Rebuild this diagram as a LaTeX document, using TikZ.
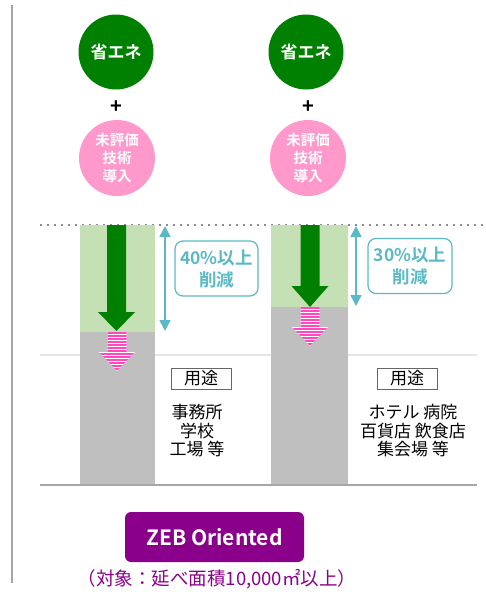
\documentclass[tikz,border=0pt]{standalone}
\usepackage{fontspec}
\setmainfont{Noto Sans CJK JP}[BoldFont={Noto Sans CJK JP Bold}]
\usetikzlibrary{arrows.meta}

\definecolor{eco}{HTML}{008000}
\definecolor{ecolight}{HTML}{C5E0B4}
\definecolor{newtech}{HTML}{FF99CC}
\definecolor{stripe}{HTML}{FF48C2}
\definecolor{cut}{HTML}{5BB9C5}
\definecolor{zeb}{HTML}{8B008B}
\definecolor{bldg}{HTML}{BFBFBF}

% green arrow: centre x, top, head start, tip
\newcommand{\ecoarrow}[4]{
  \fill[eco] (#1-9.5,#2) -- (#1+9.5,#2) -- (#1+9.5,#3) -- (#1+18.5,#3)
    -- (#1,#4) -- (#1-18.5,#3) -- (#1-9.5,#3) -- cycle;
}
% striped pink arrow: centre x, top, head start, tip
\newcommand{\techarrow}[4]{
  \begin{scope}
    \clip (#1-9.5,#2) -- (#1+9.5,#2) -- (#1+9.5,#3) -- (#1+18,#3)
      -- (#1,#4) -- (#1-18,#3) -- (#1-9.5,#3) -- cycle;
    \fill[white] (#1-20,#2) rectangle (#1+20,#4);
    \foreach \s in {0,3,...,42}
      \fill[stripe] (#1-20,#2+\s) rectangle (#1+20,#2+\s+1.6);
  \end{scope}
}

\begin{document}
\begin{tikzpicture}[x=1pt,y=-1pt,
    ecocircle/.style={circle,fill=eco,minimum size=75pt,inner sep=0pt,
      text=white,font=\fontsize{17}{18}\selectfont\bfseries},
    techcircle/.style={circle,fill=newtech,minimum size=76pt,inner sep=0pt,
      text=white,align=center,font=\fontsize{14.5}{18}\selectfont\bfseries},
    cutbox/.style={draw=cut,line width=1.2pt,rounded corners=8pt,fill=white,
      text=cut,align=center,minimum height=55pt,inner sep=0pt,
      font=\fontsize{17.5}{22}\selectfont\bfseries},
    cutarrow/.style={cut,line width=1.5pt,{Triangle[length=11pt,width=11pt]}-{Triangle[length=11pt,width=11pt]}},
    usebox/.style={draw=black!60,line width=0.8pt,minimum width=60pt,minimum height=21pt,
      inner sep=0pt,font=\fontsize{17}{18}\selectfont},
    uselist/.style={align=center,font=\fontsize{17}{18.5}\selectfont},
    plus/.style={font=\fontsize{20}{20}\selectfont\bfseries},
  ]
  \useasboundingbox (0,0) rectangle (486,592);

  % frame lines
  \draw[black!35,line width=1.5pt] (12,5) -- (12,583);
  \draw[black!45,dotted,line width=1.5pt,dash pattern=on 1.5pt off 5.5pt] (40,225) -- (486,225);
  \draw[black!10,line width=2pt] (40,355) -- (477,355);

  % buildings
  \fill[ecolight] (80,225) rectangle (155,332);
  \fill[bldg] (80,332) rectangle (155,485);
  \fill[ecolight] (271,225) rectangle (348,307);
  \fill[bldg] (271,307) rectangle (348,485);
  \draw[black!35,line width=2pt] (40,485) -- (477,485);

  \ecoarrow{116.5}{225}{312}{331}
  \ecoarrow{310}{225}{286}{307}
  \techarrow{117}{332}{352}{371}
  \techarrow{310}{307}{327}{346}

  % top circles
  \node[ecocircle] (eco1) at (116,52) {省エネ};
  \node[ecocircle] (eco2) at (306,52) {省エネ};
  \node[plus] (plus1) at (116,107) {+};
  \node[plus] (plus2) at (308,107) {+};
  \node[techcircle] (tech1) at (117,158) {未評価\\技術\\導入};
  \node[techcircle] (tech2) at (308,158) {未評価\\技術\\導入};

  % reduction
  \coordinate (top1) at (165,226);
  \coordinate (bot1) at (165,331);
  \coordinate (top2) at (356,226);
  \coordinate (bot2) at (356,306);
  \draw[cutarrow] (top1) -- (bot1);
  \draw[cutarrow] (top2) -- (bot2);
  \node[cutbox,minimum width=83pt] (cut1) at (216.5,268.5) {40\%以上\\削減};
  \node[cutbox,minimum width=84pt] (cut2) at (410,266) {30\%以上\\削減};

  % uses
  \node[usebox] (use1) at (201,378.5) {用途};
  \node[uselist,anchor=north] (list1) at (197,401) {事務所\\学校\\工場 等};
  \node[usebox] (use2) at (407,378.5) {用途};
  \node[uselist,anchor=north] (list2) at (413,401) {ホテル 病院\\百貨店 飲食店\\集会場 等};

  % ZEB Oriented
  \node[fill=zeb,rounded corners=6pt,minimum width=179pt,minimum height=50pt,
    text=white,font=\fontsize{21}{22}\selectfont\bfseries] (zeb) at (214.5,537) {ZEB Oriented};
  \node[text=zeb,font=\fontsize{18.5}{18}\selectfont] (scope) at (217,579) {（対象：延べ面積10,000㎡以上）};
\end{tikzpicture}
\end{document}
